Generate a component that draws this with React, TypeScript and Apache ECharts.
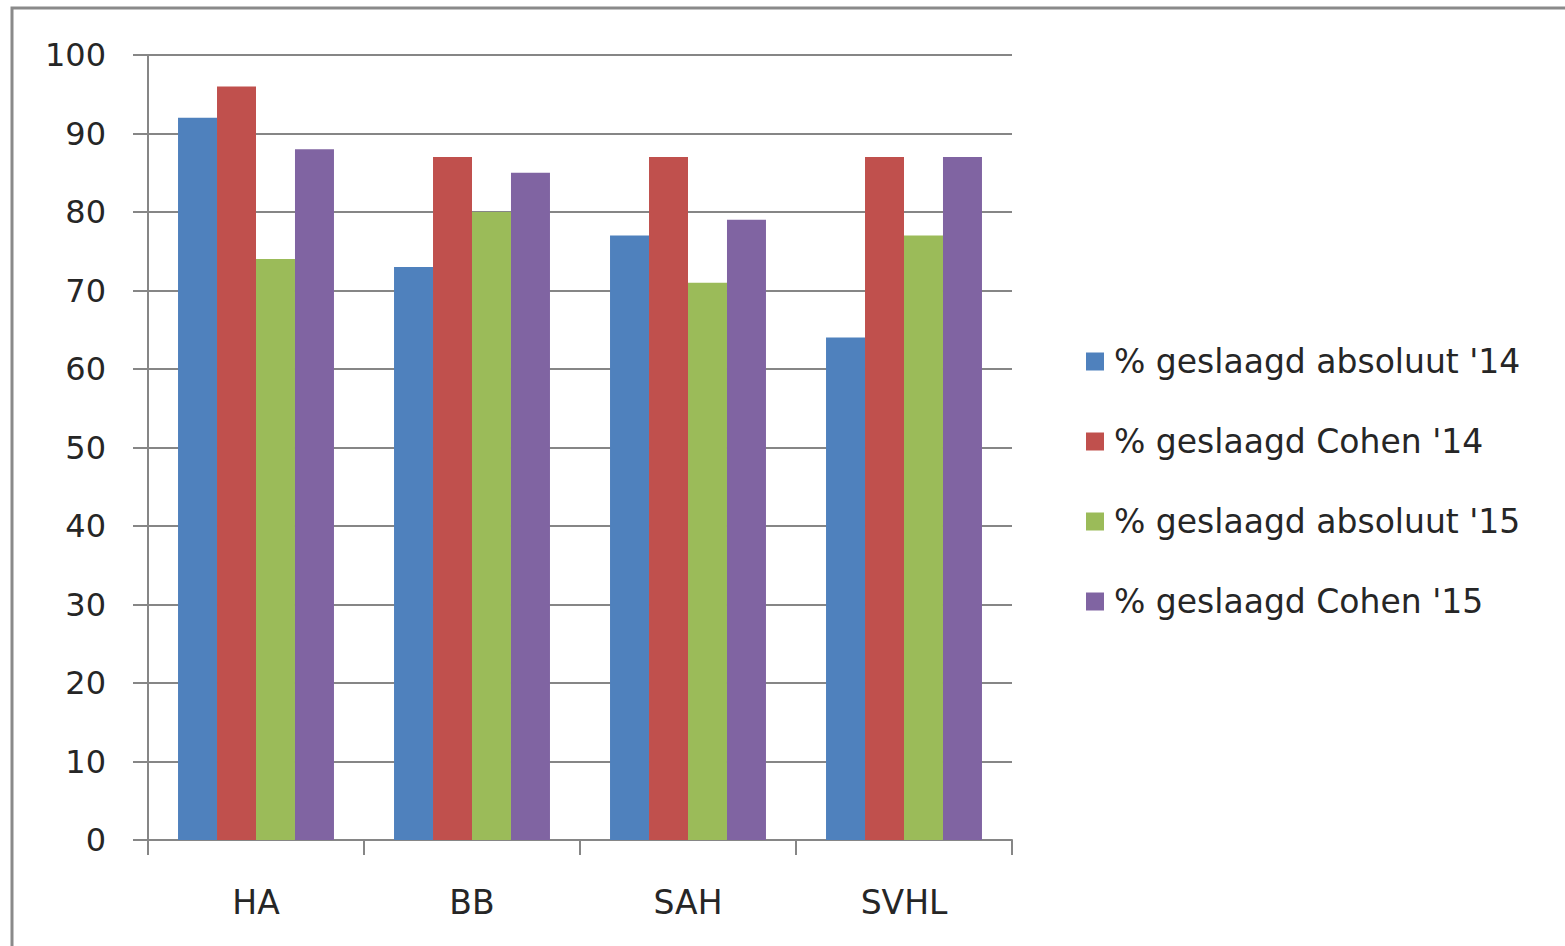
import React, { useEffect, useRef } from "react";
import * as echarts from "echarts";

const categories = ["HA", "BB", "SAH", "SVHL"];
const seriesNames = [
  "% geslaagd absoluut '14",
  "% geslaagd Cohen '14",
  "% geslaagd absoluut '15",
  "% geslaagd Cohen '15",
];
const absoluut14 = [92, 73, 77, 64];
const cohen14 = [96, 87, 87, 87];
const absoluut15 = [74, 80, 71, 77];
const cohen15 = [88, 85, 79, 87];
const colors = ["#4F81BD", "#C0504D", "#9BBB59", "#8064A2"];

export default function App() {
  const ref = useRef<HTMLDivElement>(null);
  useEffect(() => {
    if (!ref.current) return;
    const chart = echarts.init(ref.current, null, { renderer: "svg" });
    const data = [absoluut14, cohen14, absoluut15, cohen15];
    const font = "DejaVu Sans";
    chart.setOption({
      animation: false,
      backgroundColor: "#ffffff",
      graphic: [
        {
          type: "rect",
          shape: { x: 12, y: 8, width: 1600, height: 1000 },
          style: { fill: "none", stroke: "#8a8a8a", lineWidth: 3 },
          silent: true,
        },
      ],
      grid: { left: 148, top: 55, width: 864, height: 785 },
      legend: {
        orient: "vertical",
        left: 1081,
        top: 340,
        itemWidth: 18,
        itemHeight: 18,
        itemGap: 47,
        icon: "rect",
        data: seriesNames,
        textStyle: {
          fontFamily: font,
          fontSize: 33,
          color: "#262626",
          padding: [0, 0, 0, 5],
        },
      },
      xAxis: {
        type: "category",
        data: categories,
        axisLine: { lineStyle: { color: "#868686", width: 2 } },
        axisTick: { show: true, length: 15, lineStyle: { color: "#868686", width: 2 } },
        axisLabel: {
          margin: 46,
          fontFamily: font,
          fontSize: 33,
          color: "#262626",
        },
      },
      yAxis: {
        type: "value",
        min: 0,
        max: 100,
        interval: 10,
        axisLine: { show: true, lineStyle: { color: "#868686", width: 2 } },
        axisTick: { show: true, length: 15, lineStyle: { color: "#868686", width: 2 } },
        splitLine: { show: true, lineStyle: { color: "#868686", width: 2 } },
        axisLabel: {
          margin: 42,
          fontFamily: font,
          fontSize: 32,
          color: "#262626",
        },
      },
      series: seriesNames.map((name, i) => ({
        name,
        type: "bar",
        data: data[i],
        barGap: "0%",
        barCategoryGap: "27.8%",
        itemStyle: { color: colors[i] },
      })),
    });
    return () => chart.dispose();
  }, []);
  return (
    <div
      ref={ref}
      style={{ position: "fixed", left: 0, top: 0, width: 1565, height: 946 }}
    />
  );
}
